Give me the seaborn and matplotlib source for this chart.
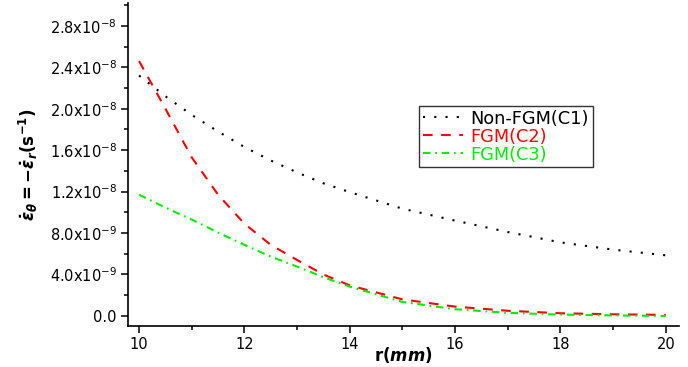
import numpy as np
import pandas as pd
import matplotlib
matplotlib.use("Agg")
import matplotlib.pyplot as plt
from matplotlib.ticker import FuncFormatter, MultipleLocator
import seaborn as sns

# ---- data (values in units of 1e-8 s^-1) ----
r_mm = [10, 10.5, 11, 11.5, 12, 12.5, 13, 13.5, 14, 15, 16, 17, 18, 19, 20]
non_fgm_c1 = [2.32, 2.12, 1.94, 1.78, 1.63, 1.50, 1.385, 1.28, 1.195, 1.035, 0.92, 0.81, 0.71, 0.64, 0.585]
fgm_c2 = [2.46, 2.00, 1.53, 1.17, 0.89, 0.686, 0.54, 0.40, 0.295, 0.16, 0.09, 0.05, 0.026, 0.016, 0.01]
fgm_c3 = [1.17, 1.046, 0.93, 0.805, 0.686, 0.573, 0.476, 0.374, 0.283, 0.135, 0.065, 0.03, 0.013, 0.005, 0.0]
labels = ["Non-FGM(C1)", "FGM(C2)", "FGM(C3)"]
colors = ["#000000", "#ff0000", "#00ee00"]
scale = 1e-8

sns.set_style("ticks", {"axes.edgecolor": "black", "text.color": "black",
                        "axes.labelcolor": "black", "xtick.color": "black",
                        "ytick.color": "black"})
plt.rcParams["font.family"] = ["DejaVu Sans"]
plt.rcParams["mathtext.fontset"] = "dejavusans"
plt.rcParams["mathtext.rm"] = "DejaVu Sans:bold"
plt.rcParams["mathtext.it"] = "DejaVu Sans:bold:italic"
plt.rcParams["mathtext.bf"] = "DejaVu Sans:bold"
plt.rcParams["mathtext.sf"] = "DejaVu Sans:bold"

fig = plt.figure(figsize=(6.88, 3.67), dpi=100)
ax = fig.add_axes([128/688, 1-326/367, (679-128)/688, (326-3)/367])

series = [non_fgm_c1, fgm_c2, fgm_c3]
styles = [(0, (1.0, 4.4)), (0, (4.6, 4.1)), (0, (3.6, 2.3, 0.8, 2.3))]
for vals, lab, col, ls in zip(series, labels, colors, styles):
    df = pd.DataFrame({"r": r_mm, "v": np.array(vals) * scale})
    sns.lineplot(data=df, x="r", y="v", ax=ax, color=col, linestyle=ls,
                 linewidth=1.5, label=lab)

ax.set_xlim(9.79, 20.25)
ax.set_ylim(-0.097e-8, 3.02e-8)
ax.xaxis.set_major_locator(MultipleLocator(2))
ax.xaxis.set_minor_locator(MultipleLocator(1))
ax.yaxis.set_major_locator(MultipleLocator(0.4e-8))
ax.yaxis.set_minor_locator(MultipleLocator(0.2e-8))

def fmt(v, pos):
    if abs(v) < 1e-20:
        return "0.0"
    e = int(np.floor(np.log10(abs(v)) + 1e-9))
    m = v / 10**e
    return f"{m:.1f}x10$^{{{e}}}$"

ax.yaxis.set_major_formatter(FuncFormatter(fmt))
ax.tick_params(axis="both", which="major", length=5, width=1.1, labelsize=10.5, pad=3)
ax.tick_params(axis="both", which="minor", length=3, width=1.1)
for s in ["left", "bottom"]:
    ax.spines[s].set_linewidth(1.2)
sns.despine(ax=ax)

ax.set_xlabel(r"$\mathrm{r(}mm\mathrm{)}$", fontsize=12, labelpad=-5,
              math_fontfamily="custom")
ax.set_ylabel(r"$\dot{\varepsilon}_\theta\mathrm{=-}\dot{\varepsilon}_r\mathrm{(s^{-1})}$",
              fontsize=12, labelpad=7, math_fontfamily="custom")

leg = ax.legend(loc="upper left", bbox_to_anchor=(419/688, 1-106/367),
                bbox_transform=fig.transFigure, fontsize=12.8, frameon=True,
                fancybox=False, framealpha=1, edgecolor="#333333",
                handlelength=2.3, handletextpad=0.4, labelspacing=0.0,
                borderpad=0.2, borderaxespad=0)
leg.get_frame().set_linewidth(1.0)
for t, c in zip(leg.get_texts(), colors):
    t.set_color(c)

fig.canvas.draw()
for t in ax.get_yticklabels():
    t.set_math_fontfamily("dejavusans")

fig.savefig("out.png", dpi=100)
